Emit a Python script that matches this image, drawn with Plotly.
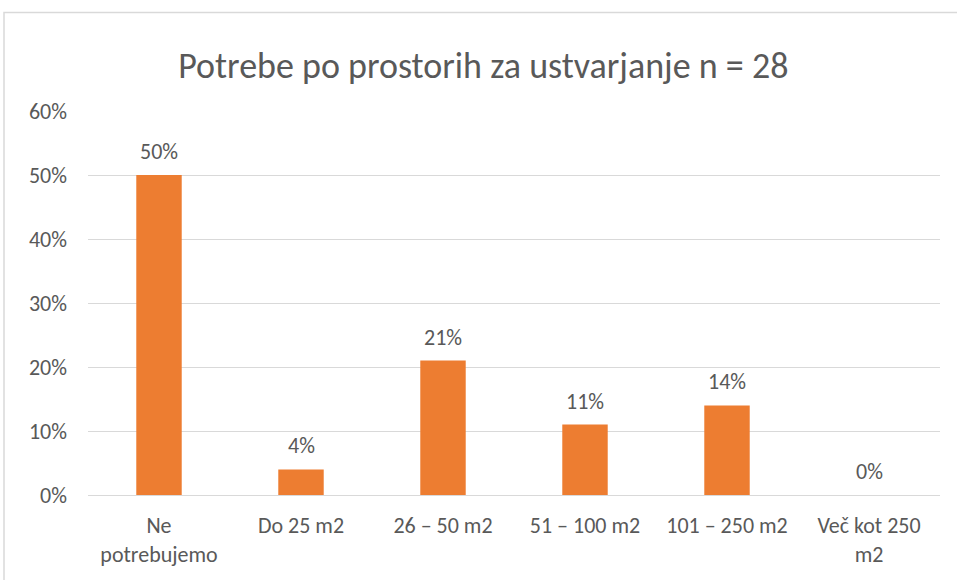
import plotly.graph_objects as go

categories = ["Ne<br>potrebujemo", "Do 25 m2", "26 – 50 m2", "51 – 100 m2", "101 – 250 m2", "Več kot 250<br>m2"]
values = [0.50, 0.04, 0.21, 0.11, 0.14, 0.00]
title_text = "Potrebe po prostorih za ustvarjanje n = 28"

FONT = "Carlito, Calibri, Lato, sans-serif"
GREY = "#595959"
TS = 22

fig = go.Figure(go.Bar(
    x=categories, y=values,
    marker=dict(color="#ED7D31", line=dict(width=0)),
    hoverinfo="skip",
))

for c, v in zip(categories, values):
    fig.add_annotation(x=c, y=v, xref="x", yref="y", text=f"{v:.0%}",
                       showarrow=False, yanchor="bottom", yshift=8,
                       font=dict(size=TS, color=GREY, family=FONT, weight=300))

W, H = 957, 580
ml, mr, mt, mb = 88, 17, 111, 83
pw, ph = W - ml - mr, H - mt - mb

def px2paper_x(px):
    return (px - ml) / pw

def px2paper_y(py):
    return (H - mb - py) / ph

fig.add_shape(type="rect", xref="paper", yref="paper",
              x0=px2paper_x(4), x1=px2paper_x(990),
              y0=px2paper_y(620), y1=px2paper_y(12),
              line=dict(color="#d9d9d9", width=1.5), layer="below")

fig.update_layout(
    width=W, height=H,
    margin=dict(l=ml, r=mr, t=mt, b=mb),
    paper_bgcolor="white", plot_bgcolor="white",
    bargap=0.68,
    showlegend=False,
    title=dict(text=title_text, x=0.505, xanchor="center", y=1 - 65 / H, yanchor="middle",
               font=dict(size=36, color=GREY, family=FONT, weight=300)),
    font=dict(family=FONT, color=GREY, size=TS, weight=300),
)
fig.update_yaxes(range=[0, 0.6], dtick=0.1, tickformat=".0%",
                 showgrid=True, gridcolor="#d9d9d9", gridwidth=1,
                 zeroline=True, zerolinecolor="#d9d9d9", zerolinewidth=1,
                 showline=False, ticks="", ticklabelstandoff=20,
                 tickfont=dict(size=TS, color=GREY, family=FONT, weight=300))
fig.update_xaxes(showgrid=False, showline=False, ticks="", tickangle=0,
                 ticklabelstandoff=15,
                 tickfont=dict(size=TS, color=GREY, family=FONT, weight=300))

fig.write_html("out.html", config={"displayModeBar": False},
               post_script="document.body.style.margin='0';")
